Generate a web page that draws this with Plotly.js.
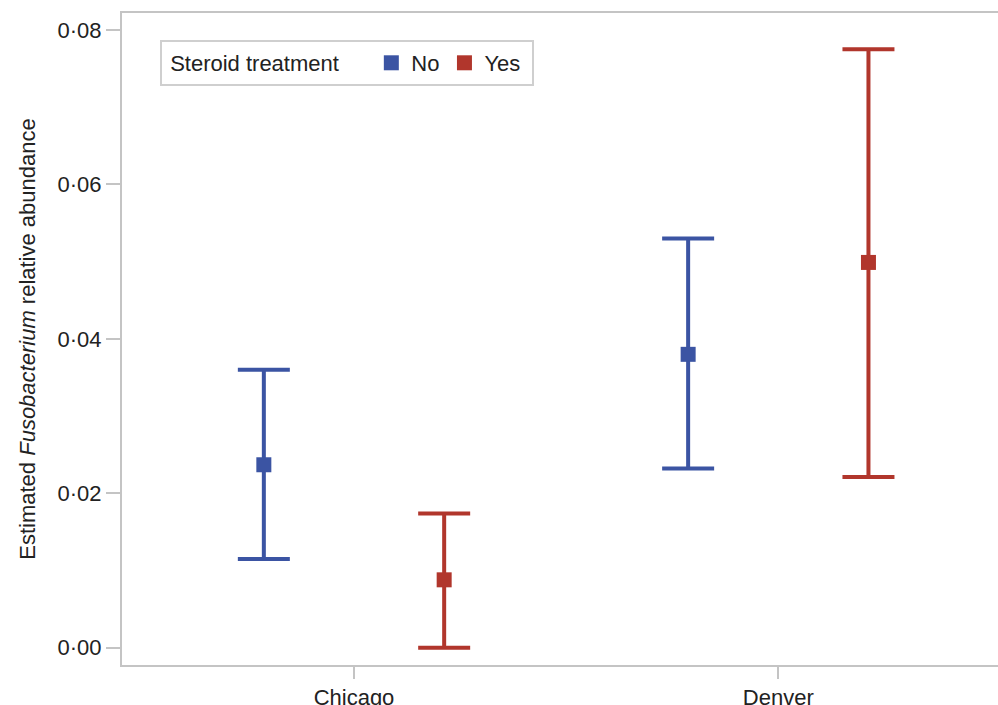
<!DOCTYPE html>
<html>
<head>
<meta charset="utf-8">
<script src="https://cdn.plot.ly/plotly-3.0.1.min.js"></script>
<style>html,body{margin:0;padding:0;background:#fff;overflow:hidden;}</style>
</head>
<body>
<div id="chart" style="width:998px;height:705px;"></div>
<script>
// Data
var sites = ["Chicago", "Denver"];
var groupNames = ["No", "Yes\u00a0"];
var legendTitle = "\u00a0Steroid treatment\u00a0\u00a0\u00a0\u00a0";
var meanNo = [0.0237, 0.0380];
var upperNo = [0.0360, 0.0530];
var lowerNo = [0.0115, 0.0232];
var meanYes = [0.0088, 0.0499];
var upperYes = [0.0174, 0.0775];
var lowerYes = [0.0000, 0.0221];
var colors = ["#3b54a3", "#b1362c"];

function makeTrace(name, mean, upper, lower, color) {
  return {
    type: "scatter",
    mode: "markers",
    name: name,
    x: sites,
    y: mean,
    marker: {symbol: "square", size: 15, color: color},
    error_y: {
      type: "data",
      symmetric: false,
      array: mean.map(function (m, i) { return upper[i] - m; }),
      arrayminus: mean.map(function (m, i) { return m - lower[i]; }),
      color: color,
      thickness: 4,
      width: 26
    },
    hoverinfo: "x+y"
  };
}

var data = [
  makeTrace(groupNames[0], meanNo, upperNo, lowerNo, colors[0]),
  makeTrace(groupNames[1], meanYes, upperYes, lowerYes, colors[1])
];

var font = {family: "Arial, 'Liberation Sans', sans-serif", size: 22, color: "#222"};

var layout = {
  width: 998,
  height: 705,
  margin: {l: 122, r: 0, t: 13, b: 40},
  paper_bgcolor: "#fff",
  plot_bgcolor: "#fff",
  font: font,
  separators: "·,",
  scattermode: "group",
  scattergap: 0.15,
  showlegend: true,
  legend: {
    orientation: "h",
    x: 0.0434, xanchor: "left",
    y: 0.9586, yanchor: "top",
    bordercolor: "#cfcfcf",
    borderwidth: 2,
    bgcolor: "#fff",
    font: font,
    title: {text: legendTitle, side: "left", font: font}
  },
  xaxis: {
    type: "category",
    categoryarray: sites,
    range: [-0.5468, 1.5178],
    showgrid: false,
    zeroline: false,
    showline: true,
    mirror: true,
    linecolor: "#c4c4c4",
    linewidth: 2,
    ticks: "outside",
    ticklen: 12,
    tickwidth: 2,
    tickcolor: "#c4c4c4",
    tickfont: font
  },
  yaxis: {
    range: [-0.00223, 0.0822],
    tick0: 0,
    dtick: 0.02,
    tickformat: ".2f",
    showgrid: false,
    zeroline: false,
    showline: true,
    linecolor: "#c4c4c4",
    linewidth: 2,
    ticks: "outside",
    ticklen: 14,
    tickwidth: 2,
    tickcolor: "#c4c4c4",
    tickfont: font,
    title: {
      text: "Estimated <i>Fusobacterium</i> relative abundance",
      font: {family: font.family, size: 22, color: "#222"},
      standoff: 16
    }
  }
};

Plotly.newPlot("chart", data, layout, {displayModeBar: false, staticPlot: true});
</script>
</body>
</html>
